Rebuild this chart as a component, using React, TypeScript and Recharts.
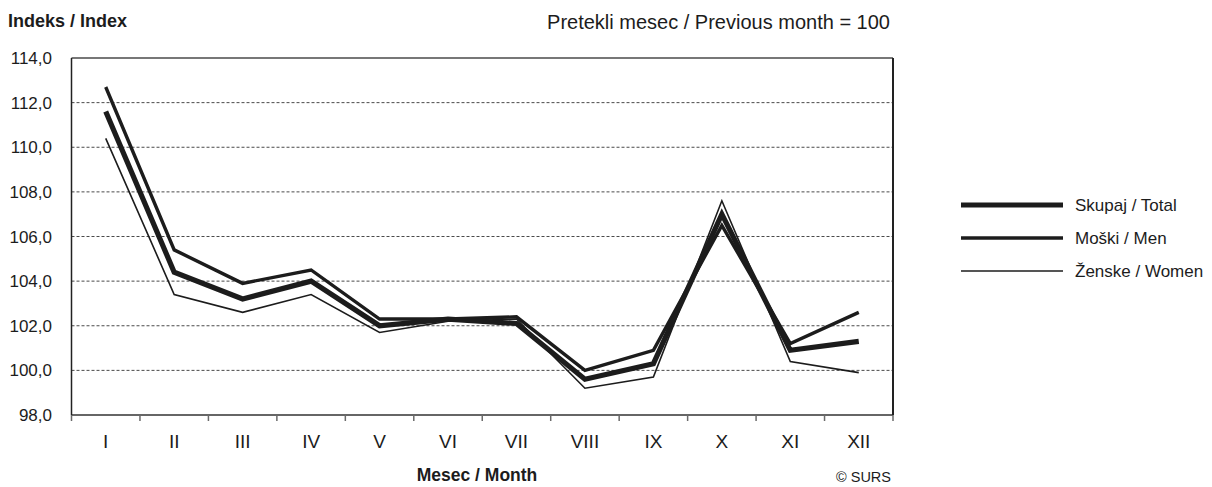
import React from "react";
import {
  LineChart,
  Line,
  XAxis,
  YAxis,
  CartesianGrid,
  ReferenceLine,
} from "recharts";

const months = ["I", "II", "III", "IV", "V", "VI", "VII", "VIII", "IX", "X", "XI", "XII"];
const total = [111.6, 104.4, 103.2, 104.0, 102.0, 102.3, 102.1, 99.6, 100.3, 107.0, 100.9, 101.3];
const men = [112.7, 105.4, 103.9, 104.5, 102.3, 102.3, 102.4, 100.0, 100.9, 106.5, 101.2, 102.6];
const women = [110.4, 103.4, 102.6, 103.4, 101.7, 102.2, 102.3, 99.2, 99.7, 107.6, 100.4, 99.9];
const yTicks = [98, 100, 102, 104, 106, 108, 110, 112, 114];
const gridValues = [100, 102, 104, 106, 108, 110, 112];

const series = [
  { key: "total", label: "Skupaj / Total", width: 5.2 },
  { key: "men", label: "Moški / Men", width: 3.4 },
  { key: "women", label: "Ženske / Women", width: 1.6 },
];

const data = months.map((m, i) => ({
  idx: i + 1,
  month: m,
  total: total[i],
  men: men[i],
  women: women[i],
}));

const boundaryTicks = months.map((_, i) => i + 0.5).concat([months.length + 0.5]);
const labelTicks = months.map((_, i) => i + 1);

const FONT = '"Liberation Sans", Arial, Helvetica, sans-serif';
const INK = "#1c1c1c";

function formatIndex(v: number): string {
  return v.toFixed(1).replace(".", ",");
}

export default function App() {
  return (
    <div style={{ position: "absolute", left: 0, top: 0, width: 1212, height: 487, background: "#fff", fontFamily: FONT }}>
      <LineChart
        width={1212}
        height={487}
        data={data}
        margin={{ top: 58, right: 318, bottom: 41, left: 11.5 }}
      >
        <CartesianGrid
          xAxisId="m"
          yAxisId="l"
          vertical={false}
          horizontalValues={gridValues}
          stroke="#4a4a4a"
          strokeDasharray="3 2"
          strokeWidth={1}
        />
        <XAxis
          xAxisId="b"
          type="number"
          dataKey="idx"
          domain={[0.5, 12.5]}
          ticks={boundaryTicks}
          interval={0}
          tickFormatter={() => ""}
          tick={{ fontSize: 1 }}
          tickSize={6}
          tickLine={{ stroke: "#6a6a6a", strokeWidth: 1.5 }}
          axisLine={{ stroke: "#333", strokeWidth: 1.5 }}
          height={2}
        />
        <XAxis
          xAxisId="m"
          type="number"
          dataKey="idx"
          domain={[0.5, 12.5]}
          ticks={labelTicks}
          interval={0}
          tickFormatter={(v: number) => months[v - 1]}
          tickLine={false}
          axisLine={false}
          tickSize={8}
          tickMargin={10}
          tick={{ fontSize: 19, fill: INK, fontFamily: FONT }}
          height={29}
        />
        <YAxis
          yAxisId="l"
          type="number"
          domain={[98, 114]}
          ticks={yTicks}
          interval={0}
          tickFormatter={formatIndex}
          tickLine={false}
          tickSize={8}
          tickMargin={11.5}
          axisLine={{ stroke: "#222", strokeWidth: 1.5 }}
          tick={{ fontSize: 17, fill: INK, fontFamily: FONT }}
          width={60}
        />
        <YAxis
          yAxisId="r"
          orientation="right"
          type="number"
          domain={[98, 114]}
          tick={false}
          tickLine={false}
          axisLine={{ stroke: "#222", strokeWidth: 2 }}
          width={1}
        />
        <ReferenceLine yAxisId="l" xAxisId="m" y={114} stroke="#777" strokeWidth={2} />
        <Line
          xAxisId="m"
          yAxisId="l"
          dataKey="women"
          stroke={INK}
          strokeWidth={1.6}
          dot={false}
          isAnimationActive={false}
        />
        <Line
          xAxisId="m"
          yAxisId="l"
          dataKey="men"
          stroke={INK}
          strokeWidth={3.4}
          dot={false}
          isAnimationActive={false}
        />
        <Line
          xAxisId="m"
          yAxisId="l"
          dataKey="total"
          stroke={INK}
          strokeWidth={5.2}
          dot={false}
          isAnimationActive={false}
        />
      </LineChart>

      <svg
        width={1212}
        height={487}
        style={{ position: "absolute", left: 0, top: 0, pointerEvents: "none" }}
        fontFamily={FONT}
      >
        <text x={8} y={27} fontSize={18} fontWeight="bold" fill={INK}>
          Indeks / Index
        </text>
        <text x={890} y={29} fontSize={20} textAnchor="end" fill={INK}>
          Pretekli mesec / Previous month = 100
        </text>
        <text x={477} y={481} fontSize={17.5} fontWeight="bold" textAnchor="middle" fill={INK}>
          Mesec / Month
        </text>
        <text x={836} y={482} fontSize={14.5} fill={INK}>
          © SURS
        </text>
        {series.map((s, i) => {
          const cy = 205 + i * 33;
          return (
            <g key={s.key}>
              <line x1={961} x2={1063} y1={cy} y2={cy} stroke={INK} strokeWidth={s.width} />
              <text x={1075} y={cy + 6} fontSize={17} fill={INK}>
                {s.label}
              </text>
            </g>
          );
        })}
      </svg>
    </div>
  );
}
